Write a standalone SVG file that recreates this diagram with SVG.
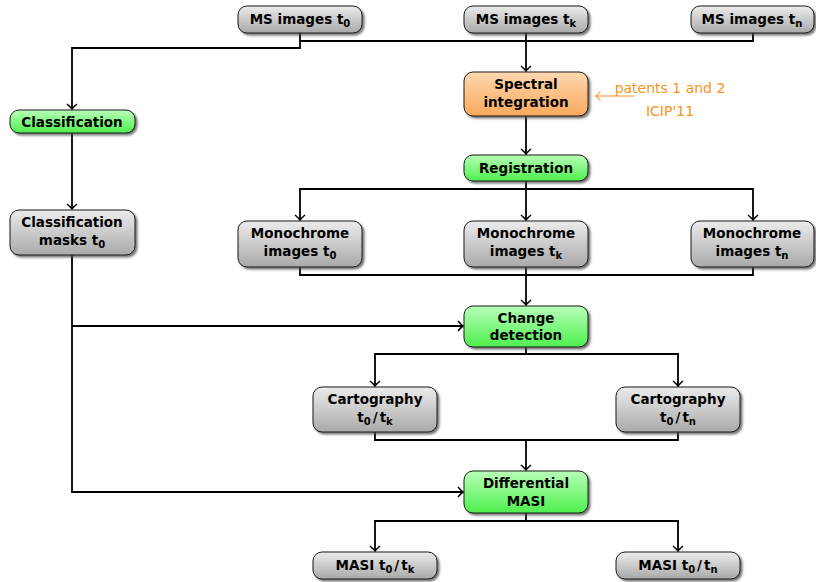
<svg xmlns="http://www.w3.org/2000/svg" width="816" height="582" viewBox="0 0 816 582">
  <defs>
    <linearGradient id="gGray" x1="0" y1="0" x2="0" y2="1">
      <stop offset="0" stop-color="#ececec"/>
      <stop offset="1" stop-color="#a9a9a9"/>
    </linearGradient>
    <linearGradient id="gGreen" x1="0" y1="0" x2="0" y2="1">
      <stop offset="0" stop-color="#b8ffb8"/>
      <stop offset="1" stop-color="#4ef04e"/>
    </linearGradient>
    <linearGradient id="gOrange" x1="0" y1="0" x2="0" y2="1">
      <stop offset="0" stop-color="#ffd8b0"/>
      <stop offset="1" stop-color="#f9a85c"/>
    </linearGradient>
    <filter id="shadow" x="-10%" y="-20%" width="130%" height="150%">
      <feDropShadow dx="2" dy="2" stdDeviation="1" flood-color="#444" flood-opacity="0.75"/>
    </filter>
    <marker id="arr" markerUnits="userSpaceOnUse" markerWidth="12" markerHeight="12" viewBox="-6 -6 12 12" refX="0" refY="0" orient="auto">
      <path d="M-5,-5 Q-1.5,-1 0,0 Q-1.5,1 -5,5" fill="none" stroke="#000" stroke-width="1.6"/>
    </marker>
    <marker id="arrO" markerUnits="userSpaceOnUse" markerWidth="12" markerHeight="12" viewBox="-6 -6 12 12" refX="0" refY="0" orient="auto">
      <path d="M-4.5,-4.5 Q-1.3,-1 0,0 Q-1.3,1 -4.5,4.5" fill="none" stroke="#f7941d" stroke-width="1.1"/>
    </marker>
  </defs>
  <style>
    .box { stroke: #1a1a1a; stroke-width: 1; filter: url(#shadow); }
    .gray { fill: url(#gGray); }
    .green { fill: url(#gGreen); }
    .orange { fill: url(#gOrange); }
    .lbl { font-family: "DejaVu Sans", "Liberation Sans", sans-serif; font-weight: bold; font-size: 13.5px; fill: #000; text-anchor: middle; }
    .sub { font-size: 10px; }
    .wire { fill: none; stroke: #000; stroke-width: 1.8; }
    .note { font-family: "DejaVu Sans", "Liberation Sans", sans-serif; font-size: 14px; fill: #f7941d; text-anchor: middle; }
  </style>

  <!-- connectors -->
  <g id="connectors">
    <path class="wire" d="M300,33 V48 H72 V109" marker-end="url(#arr)"/>
    <path class="wire" d="M300,41 H753 V33"/>
    <path class="wire" d="M526,33 V71" marker-end="url(#arr)"/>
    <path class="wire" d="M526,116 V154" marker-end="url(#arr)"/>
    <path class="wire" d="M72,133 V209" marker-end="url(#arr)"/>
    <path class="wire" d="M526,181 V220" marker-end="url(#arr)"/>
    <path class="wire" d="M526,189 H300 V220" marker-end="url(#arr)"/>
    <path class="wire" d="M526,189 H753 V220" marker-end="url(#arr)"/>
    <path class="wire" d="M300,267 V275 H753 V267"/>
    <path class="wire" d="M526,267 V305" marker-end="url(#arr)"/>
    <path class="wire" d="M72,255 V492 H463" marker-end="url(#arr)"/>
    <path class="wire" d="M72,326 H463" marker-end="url(#arr)"/>
    <path class="wire" d="M526,347 V354 H375 V386" marker-end="url(#arr)"/>
    <path class="wire" d="M526,354 H678 V386" marker-end="url(#arr)"/>
    <path class="wire" d="M375,432 V440 H678 V432"/>
    <path class="wire" d="M526,440 V470" marker-end="url(#arr)"/>
    <path class="wire" d="M526,513 V521 H375 V551" marker-end="url(#arr)"/>
    <path class="wire" d="M526,521 H678 V551" marker-end="url(#arr)"/>
  </g>

  <!-- input images -->
  <g id="ms0">
    <rect class="box gray" x="238" y="6" width="124" height="27" rx="9"/>
    <text class="lbl" x="300" y="24">MS images t<tspan class="sub" dy="3">0</tspan></text>
  </g>
  <g id="msk">
    <rect class="box gray" x="464" y="6" width="124" height="27" rx="9"/>
    <text class="lbl" x="526" y="24">MS images t<tspan class="sub" dy="3">k</tspan></text>
  </g>
  <g id="msn">
    <rect class="box gray" x="691" y="6" width="123" height="27" rx="9"/>
    <text class="lbl" x="752" y="24">MS images t<tspan class="sub" dy="3">n</tspan></text>
  </g>

  <!-- processing steps -->
  <g id="spectral">
    <rect class="box orange" x="464" y="72" width="124" height="44" rx="9"/>
    <text class="lbl" x="526" y="89">Spectral</text>
    <text class="lbl" x="526" y="107">integration</text>
  </g>
  <g id="note">
    <path d="M634,96 H596" fill="none" stroke="#f7941d" stroke-width="1.1" marker-end="url(#arrO)"/>
    <text class="note" x="670" y="93">patents 1 and 2</text>
    <text class="note" x="670" y="116">ICIP'11</text>
  </g>
  <g id="registration">
    <rect class="box green" x="464" y="155" width="124" height="26" rx="9"/>
    <text class="lbl" x="526" y="173">Registration</text>
  </g>
  <g id="classification">
    <rect class="box green" x="10" y="110" width="125" height="23" rx="9"/>
    <text class="lbl" x="72" y="126.5">Classification</text>
  </g>
  <g id="masks">
    <rect class="box gray" x="10" y="210" width="125" height="45" rx="9"/>
    <text class="lbl" x="72" y="227">Classification</text>
    <text class="lbl" x="72" y="245">masks t<tspan class="sub" dy="3">0</tspan></text>
  </g>

  <!-- monochrome images -->
  <g id="mono0">
    <rect class="box gray" x="238" y="221" width="124" height="46" rx="9"/>
    <text class="lbl" x="300" y="238">Monochrome</text>
    <text class="lbl" x="300" y="256">images t<tspan class="sub" dy="3">0</tspan></text>
  </g>
  <g id="monok">
    <rect class="box gray" x="464" y="221" width="124" height="46" rx="9"/>
    <text class="lbl" x="526" y="238">Monochrome</text>
    <text class="lbl" x="526" y="256">images t<tspan class="sub" dy="3">k</tspan></text>
  </g>
  <g id="monon">
    <rect class="box gray" x="691" y="221" width="123" height="46" rx="9"/>
    <text class="lbl" x="752" y="238">Monochrome</text>
    <text class="lbl" x="752" y="256">images t<tspan class="sub" dy="3">n</tspan></text>
  </g>

  <g id="change">
    <rect class="box green" x="464" y="306" width="124" height="41" rx="9"/>
    <text class="lbl" x="526" y="323">Change</text>
    <text class="lbl" x="526" y="340">detection</text>
  </g>

  <!-- change maps -->
  <g id="carto0k">
    <rect class="box gray" x="313" y="387" width="124" height="45" rx="9"/>
    <text class="lbl" x="375" y="404">Cartography</text>
    <text class="lbl" x="375" y="422">t<tspan class="sub" dy="3">0</tspan><tspan dx="2" dy="-3">/</tspan><tspan dx="2">t</tspan><tspan class="sub" dy="3">k</tspan></text>
  </g>
  <g id="carto0n">
    <rect class="box gray" x="616" y="387" width="124" height="45" rx="9"/>
    <text class="lbl" x="678" y="404">Cartography</text>
    <text class="lbl" x="678" y="422">t<tspan class="sub" dy="3">0</tspan><tspan dx="2" dy="-3">/</tspan><tspan dx="2">t</tspan><tspan class="sub" dy="3">n</tspan></text>
  </g>

  <g id="diff">
    <rect class="box green" x="464" y="471" width="124" height="42" rx="9"/>
    <text class="lbl" x="526" y="488">Differential</text>
    <text class="lbl" x="526" y="506">MASI</text>
  </g>

  <!-- outputs -->
  <g id="masi0k">
    <rect class="box gray" x="313" y="552" width="124" height="27" rx="9"/>
    <text class="lbl" x="375" y="570">MASI t<tspan class="sub" dy="3">0</tspan><tspan dx="2" dy="-3">/</tspan><tspan dx="2">t</tspan><tspan class="sub" dy="3">k</tspan></text>
  </g>
  <g id="masi0n">
    <rect class="box gray" x="616" y="552" width="124" height="27" rx="9"/>
    <text class="lbl" x="678" y="570">MASI t<tspan class="sub" dy="3">0</tspan><tspan dx="2" dy="-3">/</tspan><tspan dx="2">t</tspan><tspan class="sub" dy="3">n</tspan></text>
  </g>
</svg>
